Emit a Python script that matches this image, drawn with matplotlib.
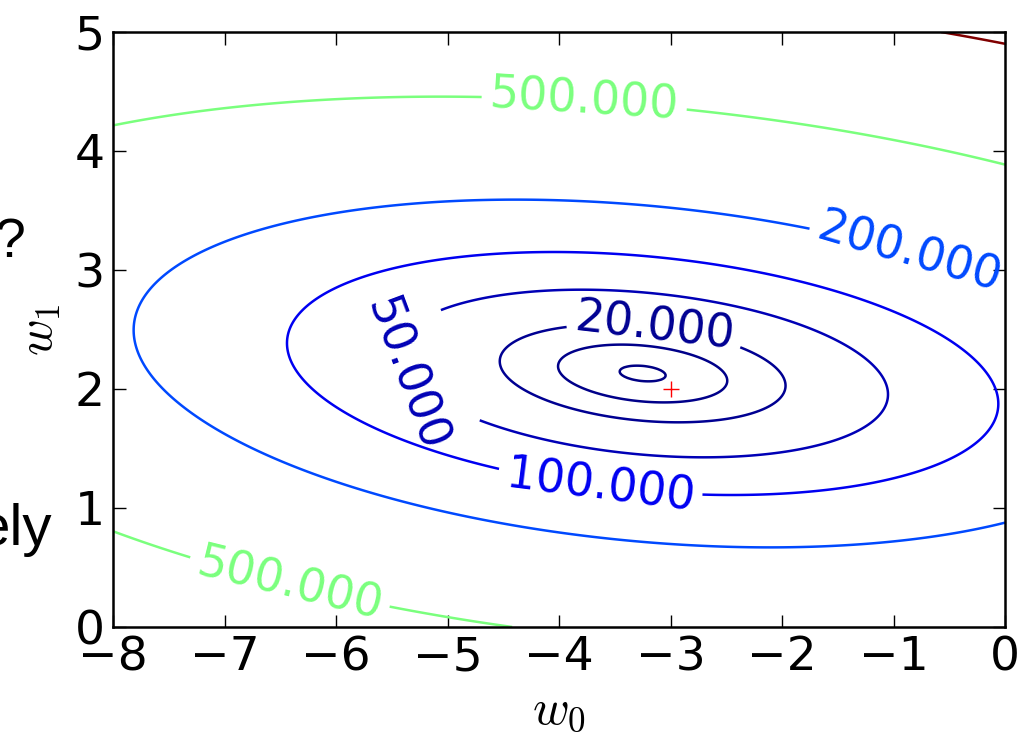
import numpy as np
import matplotlib
matplotlib.use("Agg")
import matplotlib.pyplot as plt
from matplotlib.colors import Normalize

# loss surface (squared error)
w_best = [-3.25, 2.13]      # centre of the ellipses
loss_min = 4.6
n_pts = 10
x_mean = 0.78
x_sq_mean = 9.76
w_true = [-3.0, 2.0]        # red cross

plain_levels = [1, 2, 5, 10, 1000]
label_levels = [20, 50, 100, 200, 500]
label_spots = [(-3.14, 2.54), (-5.38, 2.12), (-3.63, 1.19),
               (-0.85, 3.17), (-3.77, 4.47), (-6.41, 0.39)]

plt.rcParams['mathtext.fontset'] = 'cm'

w0 = np.linspace(-8, 0, 400)
w1 = np.linspace(0, 5, 400)
W0, W1 = np.meshgrid(w0, w1)
d0 = W0 - w_best[0]
d1 = W1 - w_best[1]
loss = n_pts * (d0**2 + 2 * x_mean * d0 * d1 + x_sq_mean * d1**2) + loss_min

fig = plt.figure(figsize=(10.19, 7.37), dpi=100)
ax = fig.add_axes([0.1109, 0.1493, 0.8754, 0.8073])

norm = Normalize(vmin=1, vmax=1000)
ax.contour(W0, W1, loss, levels=plain_levels, cmap='jet', norm=norm,
           linewidths=1.8)
cs = ax.contour(W0, W1, loss, levels=label_levels, cmap='jet', norm=norm,
                linewidths=1.8)
ax.clabel(cs, manual=label_spots, fmt='%1.3f',
          fontsize=33, inline=True, inline_spacing=8)
ax.plot(w_true[0], w_true[1], 'r+', ms=12, mew=1)

ax.set_xlim(-8, 0)
ax.set_ylim(0, 5)
ax.set_xticks(range(-8, 1))
ax.set_yticks(range(0, 6))
ax.tick_params(direction='in', top=True, right=True, length=9, width=1,
               labelsize=34, pad=6)
for s in ax.spines.values():
    s.set_linewidth(1.8)

ax.set_xlabel('$w_0$', fontsize=36, labelpad=4)
ax.set_ylabel('$w_1$', fontsize=36, labelpad=8)

# bits of slide text cut off on the left
fig.text(25 / 1019, 1 - 243 / 737, '?', ha='right', va='center',
         fontsize=40, family='Liberation Sans')
fig.text(52 / 1019, 1 - 530 / 737, 'ely', ha='right', va='center',
         fontsize=42, family='Liberation Sans')

fig.savefig('out.png', dpi=100)
